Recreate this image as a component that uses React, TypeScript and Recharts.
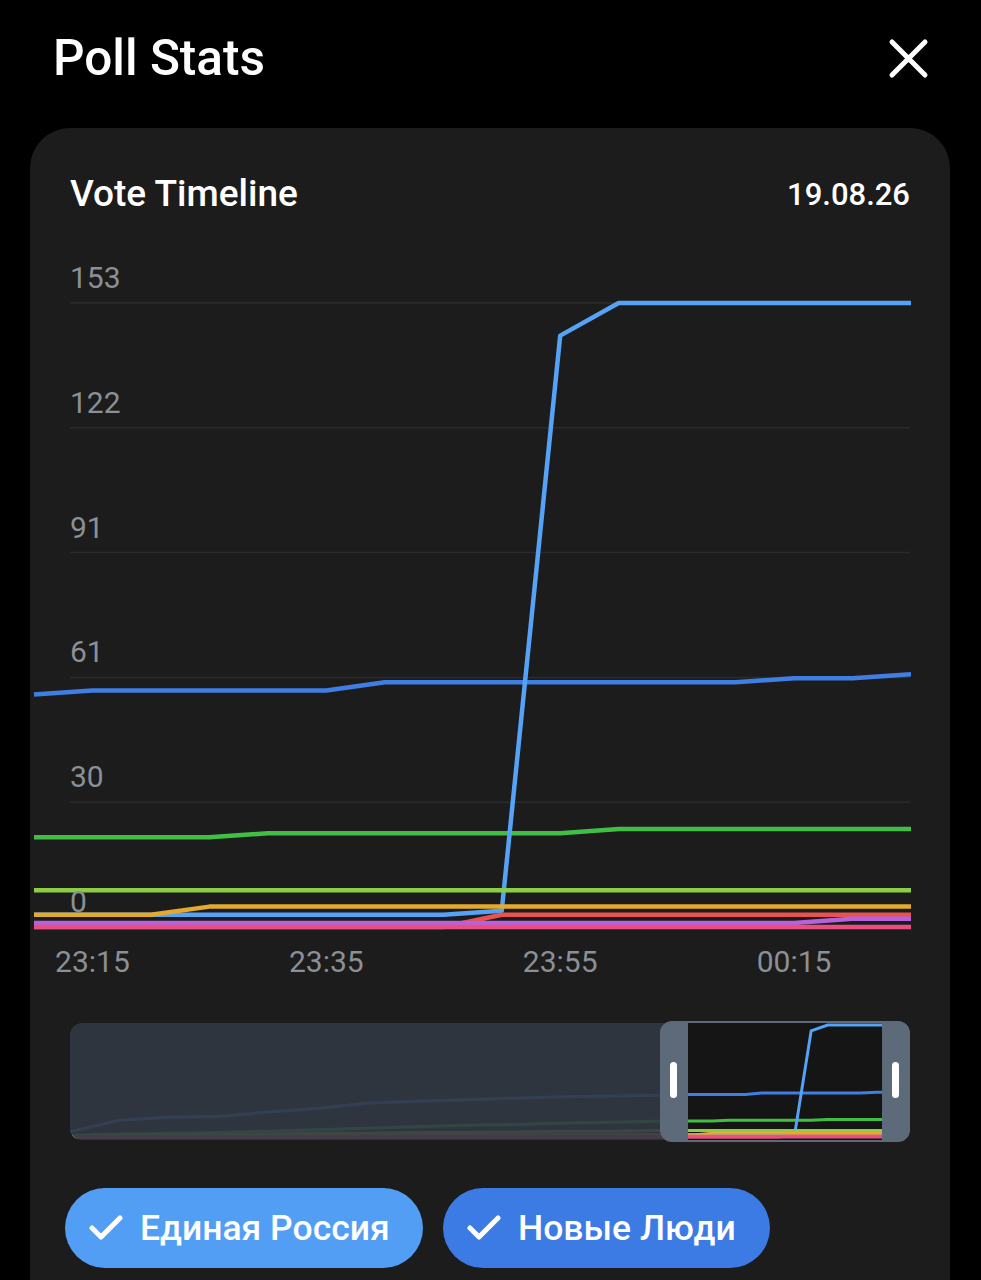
import React from 'react';
import { LineChart, Line, XAxis, YAxis, CartesianGrid } from 'recharts';

// ---------- categories / ticks ----------
const historyTimes = ['20:10', '20:25', '20:40', '20:55', '21:10', '21:25', '21:40', '21:55', '22:10', '22:25', '22:40', '22:55'];
const timeLabels = ['23:10', '23:15', '23:20', '23:25', '23:30', '23:35', '23:40', '23:45', '23:50', '23:55', '00:00', '00:05', '00:10', '00:15', '00:20', '00:25'];
const xTickLabels = ['23:15', '23:35', '23:55', '00:15'];
const yTicks = [0, 30.6, 61.2, 91.8, 122.4, 153];
const yTickLabels = ['0', '30', '61', '91', '122', '153'];
const legendLabels = ['Единая Россия', 'Новые Люди'];

// ---------- visible window values ----------
const edinayaRossiya = [3, 3, 3, 3, 3, 3, 3, 3, 4, 145, 153, 153, 153, 153, 153, 153];
const novyeLyudi = [57, 58, 58, 58, 58, 58, 60, 60, 60, 60, 60, 60, 60, 61, 61, 62];
const greenValues = [22, 22, 22, 22, 23, 23, 23, 23, 23, 23, 24, 24, 24, 24, 24, 24];
const limeValues = [9, 9, 9, 9, 9, 9, 9, 9, 9, 9, 9, 9, 9, 9, 9, 9];
const yellowValues = [3, 3, 3, 5, 5, 5, 5, 5, 5, 5, 5, 5, 5, 5, 5, 5];
const redValues = [0, 0, 0, 0, 0, 0, 0, 0, 3, 3, 3, 3, 3, 3, 3, 3];
const purpleValues = [1, 1, 1, 1, 1, 1, 1, 1, 1, 1, 1, 1, 1, 1, 2, 2];
const pinkValues = [0, 0, 0, 0, 0, 0, 0, 0, 0, 0, 0, 0, 0, 0, 0, 0];

// ---------- earlier history (navigator) ----------
const histEdinayaRossiya = [0, 0, 1, 1, 1, 1, 2, 2, 2, 2, 3, 3];
const histNovyeLyudi = [7, 23, 27, 28, 34, 39, 46, 49, 51, 53, 55, 56];
const histGreen = [2, 4, 5, 6, 8, 10, 12, 14, 16, 17, 19, 20];
const histLime = [1, 2, 3, 3, 4, 5, 5, 6, 6, 7, 8, 8];
const histYellow = [0, 0, 1, 1, 1, 2, 2, 2, 2, 3, 3, 3];
const histRed = [0, 0, 0, 0, 0, 0, 0, 0, 0, 0, 0, 0];
const histPurple = [0, 0, 0, 0, 0, 0, 1, 1, 1, 1, 1, 1];
const histPink = [0, 0, 0, 0, 0, 0, 0, 0, 0, 0, 0, 0];

const SERIES = [
  { key: 'novye', main: novyeLyudi, hist: histNovyeLyudi, color: '#3f7fe3' },
  { key: 'green', main: greenValues, hist: histGreen, color: '#41bf45' },
  { key: 'edinaya', main: edinayaRossiya, hist: histEdinayaRossiya, color: '#55a2f6' },
  { key: 'lime', main: limeValues, hist: histLime, color: '#8dcc45' },
  { key: 'red', main: redValues, hist: histRed, color: '#e8524f' },
  { key: 'yellow', main: yellowValues, hist: histYellow, color: '#e3aa2e' },
  { key: 'purple', main: purpleValues, hist: histPurple, color: '#b562dc' },
  { key: 'pink', main: pinkValues, hist: histPink, color: '#e84f7f' },
];

const mainData = timeLabels.map((t, i) => {
  const row: any = { time: t };
  SERIES.forEach((s) => (row[s.key] = s.main[i]));
  return row;
});

const allTimes = [...historyTimes, ...timeLabels];
const toMin = (t: string) => {
  const [h, m] = t.split(':').map(Number);
  return (h < 12 ? h + 24 : h) * 60 + m;
};
const navData = allTimes.map((t, i) => {
  const row: any = { m: toMin(t) - toMin(allTimes[0]) };
  SERIES.forEach((s) => {
    const vals = [...s.hist, ...s.main];
    row[s.key] = vals[i];
  });
  return row;
});

const FONT = 'Roboto, "Noto Sans", sans-serif';
const TICK_COLOR = '#8b8f96';

const YTick = (props: any) => {
  const { y, payload } = props;
  const idx = yTicks.indexOf(payload.value);
  return (
    <text x={70} y={y} dy={-15} fill={TICK_COLOR} fontSize={30} fontFamily={FONT} textAnchor="start">
      {yTickLabels[idx] ?? String(Math.floor(payload.value))}
    </text>
  );
};

const XTick = (props: any) => {
  const { x, y, payload } = props;
  return (
    <text x={x} y={y} dy={45} fill={TICK_COLOR} fontSize={30} fontFamily={FONT} textAnchor="middle">
      {payload.value}
    </text>
  );
};

const gridLine = (p: any) => (
  <line key={`g-${p.y1}`} x1={70} x2={910} y1={p.y1} y2={p.y2} stroke="#2b2b2d" strokeWidth={1.5} />
);

const Check = () => (
  <svg width={34} height={28} viewBox="0 0 34 28" style={{ display: 'block' }}>
    <path d="M3 14 L12 23 L31 4" stroke="#fff" strokeWidth={5} fill="none" strokeLinecap="round" strokeLinejoin="round" />
  </svg>
);

const buttonStyle = (left: number, width: number, bg: string): React.CSSProperties => ({
  position: 'absolute',
  left,
  top: 1188,
  width,
  height: 80,
  borderRadius: 40,
  background: bg,
  display: 'flex',
  alignItems: 'center',
  paddingLeft: 24,
  boxSizing: 'border-box',
  color: '#fff',
  fontFamily: FONT,
  fontWeight: 500,
  fontSize: 35.5,
  whiteSpace: 'nowrap',
});

export default function App() {
  return (
    <div style={{ position: 'absolute', left: 0, top: 0, width: 981, height: 1280, background: '#000', overflow: 'hidden', fontFamily: FONT }}>
      {/* header */}
      <div style={{ position: 'absolute', left: 53, top: 34, fontSize: 49.5, lineHeight: '49.5px', fontWeight: 500, color: '#fff' }}>
        Poll Stats
      </div>
      <svg style={{ position: 'absolute', left: 880, top: 30 }} width={60} height={60}>
        <path d="M12 12 L45 45 M45 12 L12 45" stroke="#fff" strokeWidth={5} strokeLinecap="round" />
      </svg>

      {/* card */}
      <div style={{ position: 'absolute', left: 30, top: 128, width: 920, height: 1200, borderRadius: 40, background: '#1c1c1d' }} />

      <div style={{ position: 'absolute', left: 70, top: 175, fontSize: 37, lineHeight: '37px', fontWeight: 500, color: '#fff' }}>
        Vote Timeline
      </div>
      <div style={{ position: 'absolute', right: 71, top: 179, fontSize: 31, lineHeight: '31px', fontWeight: 500, color: '#fff' }}>
        19.08.26
      </div>

      {/* main chart */}
      <div style={{ position: 'absolute', left: 0, top: 240 }}>
        <LineChart width={981} height={760} data={mainData} margin={{ top: 63, right: 70, bottom: 0, left: 33 }}>
          <CartesianGrid vertical={false} horizontal={gridLine} />
          <XAxis
            dataKey="time"
            ticks={xTickLabels}
            interval={0}
            axisLine={false}
            tickLine={false}
            tickSize={0}
            tickMargin={0}
            height={73}
            tick={<XTick />}
          />
          <YAxis
            type="number"
            domain={[0, 153]}
            ticks={yTicks}
            interval={0}
            width={1}
            axisLine={false}
            tickLine={false}
            tick={<YTick />}
          />
          {SERIES.map((s) => (
            <Line
              key={s.key}
              type="linear"
              dataKey={s.key}
              stroke={s.color}
              strokeWidth={4.5}
              dot={false}
              activeDot={false}
              strokeLinejoin="round"
              isAnimationActive={false}
            />
          ))}
        </LineChart>
      </div>

      {/* navigator */}
      <div style={{ position: 'absolute', left: 70, top: 1023, width: 840, height: 117, borderRadius: 12, overflow: 'hidden', background: '#151515' }}>
        <LineChart width={840} height={117} data={navData} margin={{ top: 2, right: 0, bottom: 3, left: 0 }}>
          <XAxis type="number" dataKey="m" domain={['dataMin', 'dataMax']} hide />
          <YAxis type="number" domain={[0, 153]} hide width={0} />
          {SERIES.map((s) => (
            <Line
              key={s.key}
              type="linear"
              dataKey={s.key}
              stroke={s.color}
              strokeWidth={3}
              dot={false}
              activeDot={false}
              isAnimationActive={false}
            />
          ))}
        </LineChart>
        <div style={{ position: 'absolute', left: 0, top: 0, width: 600, height: 117, background: 'rgba(50,57,66,0.9)' }} />
      </div>
      <div
        style={{
          position: 'absolute',
          left: 660,
          top: 1021,
          width: 250,
          height: 121,
          boxSizing: 'border-box',
          borderStyle: 'solid',
          borderColor: '#5c6a7a',
          borderWidth: '2px 28px',
          borderRadius: 12,
        }}
      />
      <div style={{ position: 'absolute', left: 670, top: 1062, width: 7, height: 36, borderRadius: 4, background: '#fff' }} />
      <div style={{ position: 'absolute', left: 892, top: 1062, width: 7, height: 36, borderRadius: 4, background: '#fff' }} />

      {/* legend buttons */}
      <div style={buttonStyle(65, 358, '#529ef5')}>
        <Check />
        <span style={{ marginLeft: 17 }}>{legendLabels[0]}</span>
      </div>
      <div style={buttonStyle(443, 327, '#3c7be4')}>
        <Check />
        <span style={{ marginLeft: 17 }}>{legendLabels[1]}</span>
      </div>
    </div>
  );
}
